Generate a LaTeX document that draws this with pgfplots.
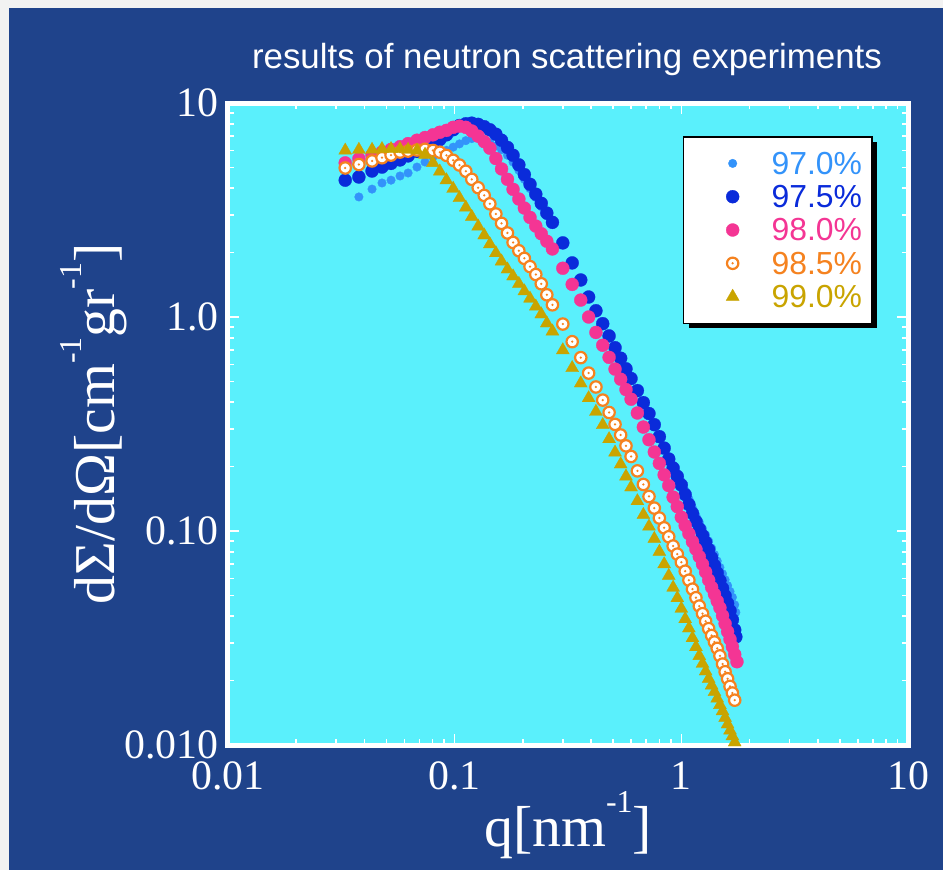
\documentclass[border=0pt]{standalone}
\usepackage{fontspec}
\setmainfont{Liberation Serif}
\newfontfamily\sansf{Liberation Sans}
\usepackage{pgfplots}
\pgfplotsset{compat=1.18}
\usetikzlibrary{shadows}
\definecolor{bgblue}{HTML}{1F438B}
\definecolor{cyanbg}{HTML}{5AF0FC}
\definecolor{margin}{HTML}{F2F2F2}
\definecolor{lb}{HTML}{3393FA}
\definecolor{db}{HTML}{0A2BDA}
\definecolor{pk}{HTML}{F43594}
\definecolor{orng}{HTML}{F5821F}
\definecolor{gd}{HTML}{C9A400}
\pgfdeclareplotmark{ringdot}{%
  \pgfpathcircle{\pgfpointorigin}{\pgfplotmarksize}%
  \pgfsetfillcolor{white}\pgfsetstrokecolor{orng}%
  \pgfusepathqfillstroke
  \pgfpathcircle{\pgfpointorigin}{0.22\pgfplotmarksize}%
  \pgfsetfillcolor{orng}%
  \pgfusepathqfill
}
\newcommand{\sups}[1]{\raisebox{0.58em}{\fontsize{32}{32}\selectfont #1}}
\begin{document}
\begin{tikzpicture}
\fill[margin] (0,0) rectangle (943bp,-870bp);
\fill[bgblue] (9bp,-8bp) rectangle (943bp,-870bp);
\node[anchor=base, text=white, font=\sansf\fontsize{35}{35}\selectfont] at (567bp,-68bp) {results of neutron scattering experiments};
\begin{axis}[
  at={(228bp,-745bp)}, anchor=south west,
  scale only axis, width=680bp, height=642bp,
  xmode=log, ymode=log,
  xmin=0.01, xmax=10, ymin=0.01, ymax=10,
  axis background/.style={fill=cyanbg},
  axis line style={white, line width=5bp},
  tick style={white, line width=1.6bp},
  major tick length=11bp, minor tick length=6bp,
  tick align=inside,
  xtick={0.01,0.1,1,10}, xticklabels={0.01,0.1,1,10},
  ytick={0.01,0.1,1,10}, yticklabels={0.010,0.10,1.0,10},
  minor xtick={0.02,0.03,0.04,0.05,0.06,0.07,0.08,0.09,0.2,0.3,0.4,0.5,0.6,0.7,0.8,0.9,2,3,4,5,6,7,8,9},
  minor ytick={0.02,0.03,0.04,0.05,0.06,0.07,0.08,0.09,0.2,0.3,0.4,0.5,0.6,0.7,0.8,0.9,2,3,4,5,6,7,8,9},
  tick label style={font=\fontsize{42}{42}\selectfont, text=white},
  xticklabel style={yshift=-13bp},
  yticklabel style={xshift=-6bp},
  label style={font=\fontsize{58}{58}\selectfont, text=white},
  xlabel={q[nm\sups{-1}]},
  ylabel={d\kern0.5ptΣ/dΩ[cm\sups{-1}gr\sups{-1}]},
  xlabel style={at={(axis description cs:0.5,-0.1573)}, anchor=base},
  ylabel style={at={(axis description cs:-0.1662,0.5)}, anchor=base, rotate=0},
  legend cell align=left,
  legend image code/.code={%
    \pgfpathrectangle{\pgfpoint{0bp}{-5bp}}{\pgfpoint{78bp}{10bp}}\pgfusepath{discard}%
    \draw[#1, only marks] plot coordinates {(39bp,0bp)};},
  legend style={at={(0.669,0.9486)}, anchor=north west,
    fill=white, draw=black, line width=1.5bp,
    drop shadow={shadow xshift=5bp, shadow yshift=-5bp, fill=black, opacity=1},
    inner xsep=10bp, inner ysep=10bp, column sep=0pt, row sep=0pt,
    font=\sansf\fontsize{32}{32}\selectfont,
    nodes={inner sep=0pt, text height=27.6bp, text depth=5.7bp}},
]
\addplot[only marks, mark=*, mark size=4.3bp, color=lb, mark options={line width=0.3pt}] coordinates {
(0.0378,3.64)(0.0432,3.96)(0.0478,4.23)(0.0524,4.36)(0.0574,4.56)(0.0623,4.71)(0.0682,5.02)(0.0740,5.30)
(0.0802,5.60)(0.0860,5.80)(0.0920,6.01)(0.0985,6.22)(0.105,6.44)(0.112,6.67)(0.119,6.82)(0.127,6.85)
(0.135,6.72)(0.143,6.52)(0.152,6.30)(0.161,6.05)(0.171,5.70)(0.181,5.30)(0.192,4.85)(0.203,4.40)
(0.215,3.98)(0.228,3.62)(0.241,3.28)(0.255,2.97)(0.270,2.70)
(0.30,2.20)(0.33,1.78)(0.36,1.48)(0.39,1.24)(0.42,1.07)(0.45,0.929)(0.48,0.816)(0.51,0.721)(0.54,0.643)
(0.57,0.574)(0.60,0.519)(0.64,0.455)(0.68,0.400)(0.72,0.356)(0.76,0.317)(0.80,0.280)(0.84,0.248)
(0.88,0.222)(0.92,0.202)(0.96,0.185)(1.00,0.170)(1.04,0.154)(1.08,0.141)(1.12,0.128)(1.16,0.118)
(1.20,0.110)(1.24,0.1025)(1.28,0.0959)(1.32,0.0897)(1.36,0.0832)(1.40,0.0776)(1.44,0.0724)(1.48,0.0676)
(1.52,0.0631)(1.56,0.0592)(1.60,0.0556)(1.64,0.0522)(1.68,0.049)(1.72,0.0452)(1.74,0.0417)
};
\addlegendentry{\textcolor{lb}{97.0\%}}
\addplot[only marks, mark=*, mark size=6.5bp, color=db, mark options={line width=0.3pt}] coordinates {
(0.0329,4.36)(0.0378,4.51)(0.0432,4.81)(0.0478,5.02)(0.0524,5.22)(0.0574,5.42)(0.0623,5.66)(0.0682,5.94)
(0.0740,6.15)(0.0802,6.40)(0.0860,6.75)(0.0920,7.10)(0.0985,7.50)(0.105,7.85)(0.112,8.00)(0.119,8.05)
(0.127,7.95)(0.135,7.75)(0.143,7.50)(0.152,7.15)(0.161,6.70)(0.171,6.20)(0.181,5.70)(0.192,5.14)
(0.203,4.63)(0.215,4.17)(0.228,3.75)(0.241,3.40)(0.255,3.06)(0.270,2.77)
(0.30,2.22)(0.33,1.79)(0.36,1.49)(0.39,1.24)(0.42,1.07)(0.45,0.931)(0.48,0.816)(0.51,0.719)(0.54,0.642)
(0.57,0.573)(0.60,0.516)(0.64,0.453)(0.68,0.398)(0.72,0.354)(0.76,0.314)(0.80,0.276)(0.84,0.244)
(0.88,0.217)(0.92,0.197)(0.96,0.180)(1.00,0.164)(1.04,0.148)(1.08,0.133)(1.12,0.121)(1.16,0.111)
(1.20,0.1025)(1.24,0.0953)(1.28,0.0886)(1.32,0.0818)(1.36,0.075)(1.40,0.069)(1.44,0.0637)(1.48,0.0587)
(1.52,0.0540)(1.56,0.0498)(1.60,0.0459)(1.64,0.0424)(1.68,0.0385)(1.72,0.0345)(1.74,0.032)
};
\addlegendentry{\textcolor{db}{97.5\%}}
\addplot[only marks, mark=*, mark size=6.5bp, color=pk, mark options={line width=0.3pt}] coordinates {
(0.0329,5.25)(0.0378,5.48)(0.0432,5.71)(0.0478,5.90)(0.0524,6.07)(0.0574,6.25)(0.0623,6.46)(0.0682,6.70)
(0.0740,6.90)(0.0802,7.10)(0.0860,7.30)(0.0920,7.45)(0.0985,7.70)(0.105,7.80)(0.112,7.70)(0.119,7.40)
(0.127,7.00)(0.135,6.60)(0.143,6.15)(0.152,5.50)(0.161,4.92)(0.171,4.40)(0.181,3.95)(0.192,3.56)
(0.203,3.23)(0.215,2.92)(0.228,2.66)(0.241,2.45)(0.255,2.26)(0.270,2.08)
(0.30,1.69)(0.33,1.42)(0.36,1.20)(0.39,1.00)(0.42,0.847)(0.45,0.738)(0.48,0.648)(0.51,0.571)(0.54,0.512)
(0.57,0.458)(0.60,0.413)(0.64,0.356)(0.68,0.306)(0.72,0.267)(0.76,0.234)(0.80,0.207)(0.84,0.183)
(0.88,0.163)(0.92,0.144)(0.96,0.130)(1.00,0.116)(1.04,0.106)(1.08,0.0972)(1.12,0.0891)(1.16,0.0822)
(1.20,0.0759)(1.24,0.070)(1.28,0.0643)(1.32,0.0590)(1.36,0.0546)(1.40,0.0507)(1.44,0.0471)(1.48,0.0438)
(1.52,0.0402)(1.56,0.0369)(1.60,0.0339)(1.64,0.0312)(1.68,0.0288)(1.72,0.0265)(1.76,0.0245)
};
\addlegendentry{\textcolor{pk}{98.0\%}}
\addplot[only marks, mark=ringdot, mark size=5.7bp, color=orng, mark options={fill=white, draw=orng, line width=2.2bp}] coordinates {
(0.0329,4.97)(0.0378,5.16)(0.0432,5.36)(0.0478,5.55)(0.0524,5.71)(0.0574,5.90)(0.0623,5.96)(0.0682,6.03)
(0.0740,6.08)(0.0802,6.00)(0.0860,5.89)(0.0920,5.69)(0.0985,5.40)(0.105,5.13)(0.112,4.80)(0.119,4.40)
(0.127,4.02)(0.135,3.70)(0.143,3.38)(0.152,3.03)(0.161,2.74)(0.171,2.47)(0.181,2.23)(0.192,2.04)
(0.203,1.88)(0.215,1.72)(0.228,1.58)(0.241,1.43)(0.255,1.27)(0.270,1.14)
(0.30,0.927)(0.33,0.767)(0.36,0.646)(0.39,0.547)(0.42,0.471)(0.45,0.409)(0.48,0.358)(0.51,0.315)(0.54,0.281)
(0.57,0.250)(0.60,0.223)(0.64,0.191)(0.68,0.165)(0.72,0.145)(0.76,0.128)(0.80,0.115)(0.84,0.1035)
(0.88,0.094)(0.92,0.0851)(0.96,0.078)(1.00,0.0714)(1.04,0.0649)(1.08,0.0589)(1.12,0.0535)(1.16,0.0488)
(1.20,0.0446)(1.24,0.0411)(1.28,0.0379)(1.32,0.0350)(1.36,0.0325)(1.40,0.0303)(1.44,0.0283)(1.48,0.0261)
(1.52,0.0239)(1.56,0.0220)(1.60,0.0204)(1.64,0.0188)(1.68,0.0175)(1.72,0.0162)
};
\addlegendentry{\textcolor{orng}{98.5\%}}
\addplot[only marks, mark=triangle*, mark size=7.5bp, color=gd, mark options={line width=0.3pt}] coordinates {
(0.0329,6.00)(0.0378,6.05)(0.0432,6.05)(0.0478,6.10)(0.0524,6.10)(0.0574,6.10)(0.0623,6.05)(0.0682,6.00)
(0.0740,5.74)(0.0802,5.25)(0.0860,4.79)(0.0920,4.36)(0.0985,3.98)(0.105,3.60)(0.112,3.25)(0.119,2.94)
(0.127,2.65)(0.135,2.41)(0.143,2.19)(0.152,1.99)(0.161,1.82)(0.171,1.67)(0.181,1.55)(0.192,1.43)
(0.203,1.32)(0.215,1.22)(0.228,1.12)(0.241,1.03)(0.255,0.935)(0.270,0.857)
(0.30,0.70)(0.33,0.578)(0.36,0.49)(0.39,0.418)(0.42,0.361)(0.45,0.313)(0.48,0.269)(0.51,0.233)(0.54,0.205)
(0.57,0.180)(0.60,0.160)(0.64,0.138)(0.68,0.119)(0.72,0.105)(0.76,0.092)(0.80,0.080)(0.84,0.070)
(0.88,0.0618)(0.92,0.0544)(0.96,0.0486)(1.00,0.0434)(1.04,0.0388)(1.08,0.0351)(1.12,0.0316)(1.16,0.0287)
(1.20,0.0261)(1.24,0.0240)(1.28,0.0221)(1.32,0.0204)(1.36,0.0190)(1.40,0.0177)(1.44,0.0165)(1.48,0.0154)
(1.52,0.0144)(1.56,0.0134)(1.60,0.0125)(1.64,0.0117)(1.68,0.0110)(1.72,0.0103)
};
\addlegendentry{\textcolor{gd}{99.0\%}}
\end{axis}
\pgfresetboundingbox
\path[use as bounding box] (0,0) rectangle (943bp,-870bp);
\end{tikzpicture}
\end{document}
